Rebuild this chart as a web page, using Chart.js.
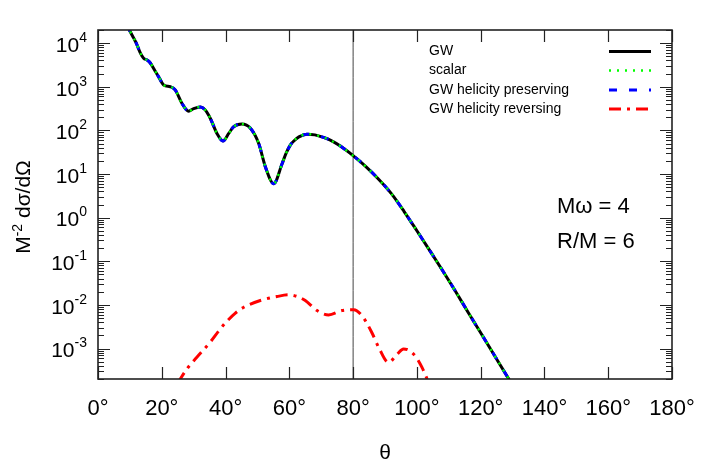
<!DOCTYPE html>
<html>
<head>
<meta charset="utf-8">
<script src="https://cdn.jsdelivr.net/npm/chart.js@4.4.1/dist/chart.umd.min.js"></script>
<style>
  html, body { margin: 0; padding: 0; background: #fff; }
</style>
</head>
<body>
<canvas id="crossSection" width="709" height="471"></canvas>
<script>
// scattering angle (degrees) for the GW / scalar / helicity preserving curves
const thetaMain = [9, 10, 11.2, 12, 13.3, 14.3, 15.4, 16.4, 18, 19, 20.6, 22.7, 24.2, 26.3, 28.4, 30, 32.1, 33.5,
  35.2, 37.3, 39.2, 41, 42.5, 45.1, 47.8, 50.4, 52.5, 55.1, 57.7, 59, 60.3, 61.5, 63, 65.5, 68, 70.7, 73, 76, 80,
  84, 88, 92, 96, 100, 104, 108, 112, 116, 120, 124, 128, 130];
const gwValues = [2.7e4, 1.9e4, 1.3e4, 1.0e4, 5900, 4500, 4100, 3500, 2240, 1700, 1100, 1000, 850, 420, 275, 316, 345, 300,
  190, 85, 57, 85, 120, 140, 112, 50, 14.5, 6, 17, 30, 46, 58, 71, 82, 79, 69, 59, 43.6, 26.3,
  14.8, 7.6, 3.55, 1.38, 0.5, 0.178, 0.062, 0.021, 0.0069, 0.0023, 7.6e-4, 2.5e-4, 1.45e-4];
const scalarValues = [2.7e4, 1.9e4, 1.3e4, 1.0e4, 5900, 4500, 4100, 3500, 2240, 1700, 1100, 1000, 850, 420, 275, 316, 345, 300,
  190, 85, 57, 85, 120, 140, 112, 50, 14.5, 6, 17, 30, 46, 58, 71, 82, 79, 69, 59, 43.6, 26.3,
  14.8, 7.6, 3.55, 1.38, 0.5, 0.178, 0.062, 0.021, 0.0069, 0.0023, 7.6e-4, 2.5e-4, 1.45e-4];
const preservingValues = [2.7e4, 1.9e4, 1.3e4, 1.0e4, 5900, 4500, 4100, 3500, 2240, 1700, 1100, 1000, 850, 420, 275, 316, 345, 300,
  190, 85, 57, 85, 120, 140, 112, 50, 14.5, 6, 17, 30, 46, 58, 71, 82, 79, 69, 59, 43.6, 26.3,
  14.8, 7.6, 3.55, 1.38, 0.5, 0.178, 0.062, 0.021, 0.0069, 0.0023, 7.6e-4, 2.5e-4, 1.45e-4];

// helicity reversing part
const thetaReversing = [25, 25.8, 28, 31, 35.2, 38, 40.4, 43, 45.7, 50.9, 56.1, 59.8, 62.5, 65, 68.7, 72.3, 76.5, 80.2,
  82.8, 85.9, 88, 91.1, 93.8, 95.8, 99, 101.6, 103.2, 104];
const reversingValues = [1.6e-4, 2e-4, 3.5e-4, 6.3e-4, 1.4e-3, 2.6e-3, 4.2e-3, 6.4e-3, 8.8e-3, 0.0126, 0.0155, 0.017, 0.0155, 0.0126,
  0.0074, 0.0059, 0.0074, 0.0077, 0.0056, 0.0023, 1.07e-3, 4.8e-4, 7.4e-4, 9.8e-4, 7.4e-4, 3.7e-4, 2e-4, 1.4e-4];

const seriesNames = ["GW", "scalar", "GW helicity preserving", "GW helicity reversing"];
const xTicks = [0, 20, 40, 60, 80, 100, 120, 140, 160, 180];
const yExponents = [-3, -2, -1, 0, 1, 2, 3, 4];
const markerTheta = 80;
const notes = ["Mω = 4", "R/M = 6"];

const FONT = "'Liberation Sans', Arial, sans-serif";

function pts(xs, ys) {
    return xs.map((t, i) => ({ x: t, y: ys[i] }));
}

// frame, inward ticks, labels, legend and notes (gnuplot look)
const plotDecor = {
    id: 'plotDecor',
    afterDatasetsDraw(chart) {
        const { ctx, chartArea: a, scales } = chart;
        const x = scales.x, y = scales.y;
        ctx.save();

        // ticks
        ctx.strokeStyle = '#222';
        ctx.lineWidth = 1.2;
        ctx.beginPath();
        xTicks.forEach(t => {
            const px = Math.round(x.getPixelForValue(t)) + 0.5;
            ctx.moveTo(px, a.bottom); ctx.lineTo(px, a.bottom - 12);
            ctx.moveTo(px, a.top); ctx.lineTo(px, a.top + 12);
        });
        for (let e = -4; e <= 4; e++) {
            for (let m = 1; m <= 9; m++) {
                const v = m * Math.pow(10, e);
                if (v < y.min || v > y.max) continue;
                const py = Math.round(y.getPixelForValue(v)) + 0.5;
                const len = m === 1 ? 12 : 6;
                ctx.moveTo(a.left, py); ctx.lineTo(a.left + len, py);
                ctx.moveTo(a.right, py); ctx.lineTo(a.right - len, py);
            }
        }
        ctx.stroke();

        // frame
        ctx.lineWidth = 1.6;
        ctx.strokeRect(a.left, a.top, a.right - a.left, a.bottom - a.top);

        ctx.fillStyle = '#000';

        // x tick labels
        ctx.font = '22px ' + FONT;
        ctx.textAlign = 'center';
        ctx.textBaseline = 'middle';
        xTicks.forEach(t => {
            ctx.fillText(t + '°', x.getPixelForValue(t), 409);
        });

        // y tick labels 10^n
        yExponents.forEach(e => {
            const py = y.getPixelForValue(Math.pow(10, e));
            ctx.font = '14px ' + FONT;
            const expTxt = e < 0 ? '-' + Math.abs(e) : String(e);
            const ew = ctx.measureText(expTxt).width;
            ctx.textAlign = 'right';
            ctx.textBaseline = 'middle';
            ctx.fillText(expTxt, 87, py - 5);
            ctx.font = '21px ' + FONT;
            ctx.fillText('10', 87 - ew, py + 3);
        });

        // axis titles
        ctx.font = '21px ' + FONT;
        ctx.textAlign = 'center';
        ctx.textBaseline = 'middle';
        ctx.fillText('θ', (a.left + a.right) / 2, 453);

        ctx.save();
        ctx.translate(30, 207);
        ctx.rotate(-Math.PI / 2);
        ctx.textBaseline = 'alphabetic';
        ctx.textAlign = 'left';
        ctx.font = '21px ' + FONT;
        const p1 = 'M', p2 = '-2', p3 = ' dσ/dΩ';
        const w1 = ctx.measureText(p1).width;
        const w3 = ctx.measureText(p3).width;
        ctx.font = '14px ' + FONT;
        const w2 = ctx.measureText(p2).width;
        let sx = -(w1 + w2 + w3) / 2;
        ctx.font = '21px ' + FONT;
        ctx.fillText(p1, sx, 0);
        ctx.font = '14px ' + FONT;
        ctx.fillText(p2, sx + w1, -8);
        ctx.font = '21px ' + FONT;
        ctx.fillText(p3, sx + w1 + w2, 0);
        ctx.restore();

        // legend
        const legendRows = [51.5, 70.5, 90, 109];
        ctx.font = '14px ' + FONT;
        ctx.textAlign = 'left';
        ctx.textBaseline = 'middle';
        seriesNames.forEach((name, i) => {
            const ds = chart.data.datasets.find(d => d.label === name);
            const ly = legendRows[i];
            ctx.fillStyle = '#000';
            ctx.fillText(name, 429, ly);
            ctx.save();
            ctx.strokeStyle = ds.borderColor;
            ctx.lineWidth = ds.borderWidth;
            ctx.setLineDash(ds.borderDash || []);
            ctx.beginPath();
            ctx.moveTo(609, ly);
            ctx.lineTo(651, ly);
            ctx.stroke();
            ctx.restore();
        });

        // parameter notes
        ctx.font = '22px ' + FONT;
        ctx.textBaseline = 'alphabetic';
        ctx.fillText(notes[0], 557, 213);
        ctx.fillText(notes[1], 557, 248);

        ctx.restore();
    }
};

const ctx = document.getElementById('crossSection').getContext('2d');
const crossChart = new Chart(ctx, {
    type: 'line',
    data: {
        datasets: [
            {
                label: seriesNames[0],
                data: pts(thetaMain, gwValues),
                borderColor: '#000000',
                borderWidth: 3,
                order: 2
            },
            {
                label: seriesNames[1],
                data: pts(thetaMain, scalarValues),
                borderColor: '#00ff00',
                borderWidth: 2.5,
                borderDash: [2, 6],
                order: 0
            },
            {
                label: seriesNames[2],
                data: pts(thetaMain, preservingValues),
                borderColor: '#0000ff',
                borderWidth: 3,
                borderDash: [8, 12],
                order: 1
            },
            {
                label: seriesNames[3],
                data: pts(thetaReversing, reversingValues),
                borderColor: '#ff0000',
                borderWidth: 3,
                borderDash: [12, 6, 3, 6],
                order: 3
            },
            {
                label: 'marker',
                data: [{ x: markerTheta, y: 1e-6 }, { x: markerTheta, y: 1e6 }],
                borderColor: '#444444',
                borderWidth: 1,
                tension: 0,
                order: 4
            }
        ]
    },
    options: {
        responsive: false,
        animation: false,
        devicePixelRatio: 1,
        layout: { padding: { left: 98, top: 30, right: 37, bottom: 92 } },
        elements: {
            point: { radius: 0 },
            line: { cubicInterpolationMode: 'monotone', fill: false }
        },
        scales: {
            x: { type: 'linear', min: 0, max: 180, display: false },
            y: { type: 'logarithmic', min: 2e-4, max: 2e4, display: false }
        },
        plugins: {
            legend: { display: false },
            tooltip: { enabled: false }
        }
    },
    plugins: [plotDecor]
});
</script>
</body>
</html>
